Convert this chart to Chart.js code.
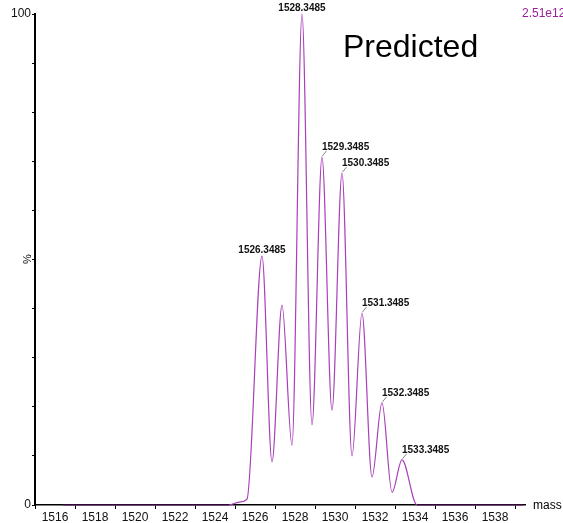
<!DOCTYPE html>
<html>
<head>
<meta charset="utf-8">
<script src="https://cdn.jsdelivr.net/npm/chart.js@4/dist/chart.umd.min.js"></script>
<style>
html,body{margin:0;padding:0;background:#fff;}
#c{display:block;}
</style>
</head>
<body>
<canvas id="c" width="563" height="523"></canvas>
<script>
// ---- data ----
const profileMass = [1516.4, 1524.7, 1525.2, 1525.6, 1526.35, 1526.85, 1527.35, 1527.85, 1528.35, 1528.85, 1529.35, 1529.85, 1530.35, 1530.85, 1531.35, 1531.85, 1532.35, 1532.85, 1533.35, 1534.1, 1539.4];
const profileIntensity = [0, 0, 0.6, 1.2, 50.7, 8.8, 40.7, 12.2, 100, 16.3, 70.9, 19.3, 67.6, 10.0, 39.1, 5.7, 20.8, 2.6, 9.2, 0, 0];
const peakMass = [1526.3485, 1528.3485, 1529.3485, 1530.3485, 1531.3485, 1532.3485, 1533.3485];
const peakIntensity = [50.7, 100, 70.9, 67.6, 39.1, 20.8, 9.2];
const peakLabels = ['1526.3485', '1528.3485', '1529.3485', '1530.3485', '1531.3485', '1532.3485', '1533.3485'];
const xTickValues = [1515,1516,1517,1518,1519,1520,1521,1522,1523,1524,1525,1526,1527,1528,1529,1530,1531,1532,1533,1534,1535,1536,1537,1538,1539];
const yTickValues = [0,10,20,30,40,50,60,70,80,90,100];
const yTickLabels = {0: '0', 100: '100'};
const intensityScaleText = '2.51e12';
const titleText = 'Predicted';
const xAxisTitle = 'mass';
const yAxisTitle = '%';

// label placement styles (not data)
const labelAlign = ['center', 'center', 'left', 'left', 'left', 'left', 'left'];

const FONT = '"Liberation Sans", Arial, sans-serif';
const LINE = '#a93fb9';
const BASE = '#5e1466';

const annotate = {
  id: 'annotate',
  afterDatasetsDraw(chart) {
    const ctx = chart.ctx;
    const xs = chart.scales.x, ys = chart.scales.y;
    ctx.save();
    // peak labels
    ctx.font = 'bold 10px ' + FONT;
    ctx.fillStyle = '#111';
    ctx.textBaseline = 'alphabetic';
    for (let i = 0; i < peakMass.length; i++) {
      const px = xs.getPixelForValue(peakMass[i]);
      const py = ys.getPixelForValue(peakIntensity[i]);
      if (labelAlign[i] === 'center') {
        ctx.textAlign = 'center';
        ctx.fillText(peakLabels[i], px, py - 3);
      } else {
        ctx.strokeStyle = '#888';
        ctx.lineWidth = 1;
        ctx.beginPath();
        ctx.moveTo(px + 0.5, py - 1);
        ctx.lineTo(px + 4.5, py - 6);
        ctx.stroke();
        ctx.textAlign = 'left';
        ctx.fillText(peakLabels[i], px, py - 7);
      }
    }
    // intensity scale text
    ctx.font = '12px ' + FONT;
    ctx.fillStyle = '#9a1f9a';
    ctx.textAlign = 'left';
    ctx.textBaseline = 'middle';
    ctx.fillText(intensityScaleText, 522, 14);
    // title
    ctx.font = '32px ' + FONT;
    ctx.fillStyle = '#000';
    ctx.textBaseline = 'alphabetic';
    ctx.fillText(titleText, 343, 57);
    // x axis title
    ctx.font = '12px ' + FONT;
    ctx.textBaseline = 'middle';
    ctx.fillText(xAxisTitle, 533, 506);
    // y axis title
    ctx.save();
    ctx.translate(28, 259);
    ctx.rotate(-Math.PI / 2);
    ctx.textAlign = 'center';
    ctx.font = '11px ' + FONT;
    ctx.fillText(yAxisTitle, 0, 0);
    ctx.restore();
    ctx.restore();
  }
};

new Chart(document.getElementById('c'), {
  type: 'line',
  data: {
    datasets: [{
      data: profileMass.map((m, i) => ({x: m, y: profileIntensity[i]})),
      borderColor: LINE,
      borderWidth: 1.2,
      pointRadius: 0,
      fill: false,
      cubicInterpolationMode: 'monotone',
      clip: false,
      segment: {
        borderColor: c => (c.p0.parsed.y === 0 && c.p1.parsed.y === 0) ? BASE : LINE
      }
    }]
  },
  options: {
    responsive: false,
    animation: false,
    devicePixelRatio: 1,
    layout: {padding: {top: 14, right: 38, left: 0, bottom: 0}},
    plugins: {legend: {display: false}, tooltip: {enabled: false}},
    scales: {
      x: {
        type: 'linear',
        min: 1515,
        max: 1539.5,
        afterBuildTicks: s => { s.ticks = xTickValues.map(v => ({value: v})); },
        afterFit: s => { s.height = 18; },
        border: {display: true, color: '#000', width: 1.5},
        grid: {
          display: true,
          drawOnChartArea: false,
          drawTicks: true,
          tickLength: 4,
          tickColor: c => (c.tick && c.tick.value % 2 === 1) ? '#000' : 'rgba(0,0,0,0)',
          tickWidth: 1
        },
        ticks: {
          autoSkip: false,
          maxRotation: 0,
          padding: 1,
          color: '#111',
          font: {family: FONT, size: 12},
          callback: v => (v % 2 === 0 ? String(v) : '')
        }
      },
      y: {
        type: 'linear',
        min: 0,
        max: 100,
        afterBuildTicks: s => { s.ticks = yTickValues.map(v => ({value: v})); },
        afterFit: s => { s.width = 35; },
        border: {display: true, color: '#000', width: 2},
        grid: {
          display: true,
          drawOnChartArea: false,
          drawTicks: true,
          tickLength: 3,
          tickColor: '#000',
          tickWidth: 1
        },
        ticks: {
          autoSkip: false,
          padding: 1,
          color: '#111',
          font: {family: FONT, size: 12},
          callback: v => (yTickLabels[v] !== undefined ? yTickLabels[v] : '')
        }
      }
    }
  },
  plugins: [annotate]
});
</script>
</body>
</html>
